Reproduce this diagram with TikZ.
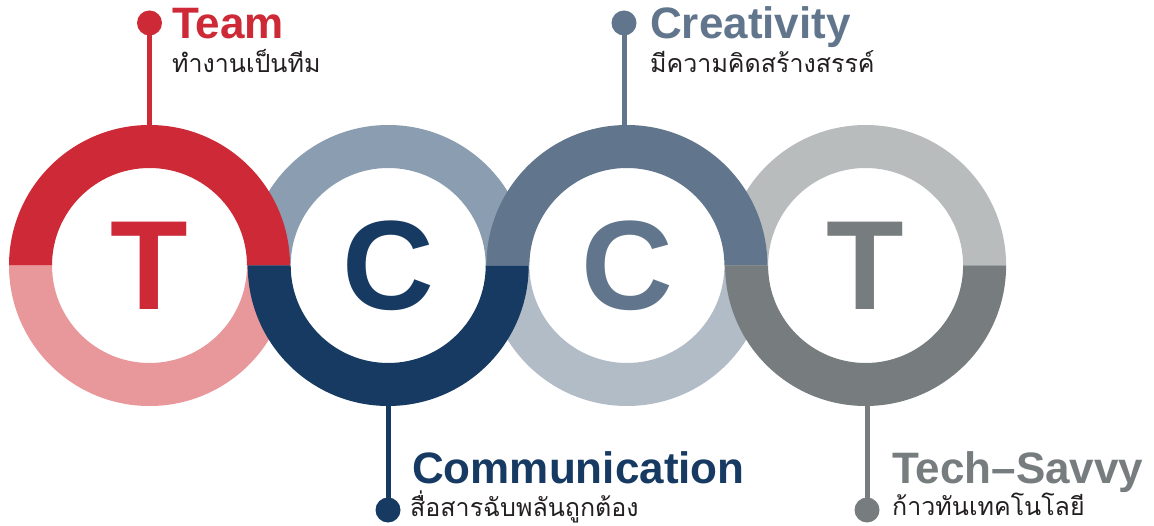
\documentclass[tikz,border=0pt]{standalone}
\usepackage{fontspec}
\setmainfont{Liberation Sans}
\newfontfamily\thaifont[Script=Thai]{Loma}
\usetikzlibrary{calc}
\definecolor{cRed}{HTML}{CD2936}
\definecolor{cPink}{HTML}{E8979B}
\definecolor{cLightBlue}{HTML}{8A9DB1}
\definecolor{cNavy}{HTML}{163A62}
\definecolor{cSlate}{HTML}{61768C}
\definecolor{cLightSlate}{HTML}{B1BCC7}
\definecolor{cLightGray}{HTML}{B9BCBD}
\definecolor{cDarkGray}{HTML}{777C7E}
\definecolor{cThai}{HTML}{231F20}
\newcommand{\Ro}{140.5}
\newcommand{\Ri}{97.5}
% center, start angle, end angle, colour
\newcommand{\ringhalf}[4]{%
  \fill[#4] ($(#1)+(#2:\Ro)$) arc[start angle=#2,end angle=#3,radius=\Ro]
    -- ($(#1)+(#3:\Ri)$) arc[start angle=#3,end angle=#2,radius=\Ri] -- cycle;}
\begin{document}
\begin{tikzpicture}[x=1pt,y=-1pt,
  title/.style={anchor=base west,inner sep=0pt,font=\fontsize{44}{44}\selectfont\bfseries},
  thai/.style={anchor=base west,inner sep=0pt,font=\fontsize{25}{25}\selectfont\thaifont,text=cThai},
  bigletter/.style={inner sep=0pt,font=\fontsize{127}{127}\selectfont\bfseries},
  dotnode/.style={circle,inner sep=0pt,minimum size=25pt},
  stem/.style={line width=5pt}]
\useasboundingbox[fill=white] (0,0) rectangle (1154,526);
% ring centres
\coordinate (c1) at (149.5,265.5);
\coordinate (c2) at (388.2,265.5);
\coordinate (c3) at (626.9,265.5);
\coordinate (c4) at (865.6,265.5);
% light halves
\ringhalf{c1}{0}{180}{cPink}
\ringhalf{c2}{180}{360}{cLightBlue}
\ringhalf{c3}{0}{180}{cLightSlate}
\ringhalf{c4}{180}{360}{cLightGray}
% dark halves
\ringhalf{c1}{180}{360}{cRed}
\ringhalf{c2}{0}{180}{cNavy}
\ringhalf{c3}{180}{360}{cSlate}
\ringhalf{c4}{0}{180}{cDarkGray}
% letters
\node[bigletter,text=cRed] (L1) at (c1) {T};
\node[bigletter,text=cNavy] (L2) at (c2) {C};
\node[bigletter,text=cSlate] (L3) at (c3) {C};
\node[bigletter,text=cDarkGray] (L4) at (c4) {T};
% stem end points on the rings
\coordinate (t1) at (149.5,127);
\coordinate (t3) at (624,127);
\coordinate (b2) at (388,404);
\coordinate (b4) at (867,404);
% Team
\node[dotnode,fill=cRed] (d1) at (149.5,23) {};
\draw[stem,cRed] (d1.center) -- (t1);
\node[title,text=cRed] (n1) at (172,39) {Team};
\node[thai] (s1) at (172,73) {ทำงานเป็นทีม};
% Creativity
\node[dotnode,fill=cSlate] (d3) at (624,23) {};
\draw[stem,cSlate] (d3.center) -- (t3);
\node[title,text=cSlate] (n3) at (650,39) {Creativity};
\node[thai] (s3) at (650,73) {มีความคิดสร้างสรรค์};
% Communication
\node[dotnode,fill=cNavy] (d2) at (388,510) {};
\draw[stem,cNavy] (b2) -- (d2.center);
\node[title,text=cNavy] (n2) at (412,483) {Communication};
\node[thai] (s2) at (410,516) {สื่อสารฉับพลันถูกต้อง};
% Tech-Savvy
\node[dotnode,fill=cDarkGray] (d4) at (867,510) {};
\draw[stem,cDarkGray] (b4) -- (d4.center);
\node[title,text=cDarkGray] (n4) at (892,483) {Tech–Savvy};
\node[thai] (s4) at (892,515) {ก้าวทันเทคโนโลยี};
\end{tikzpicture}
\end{document}
